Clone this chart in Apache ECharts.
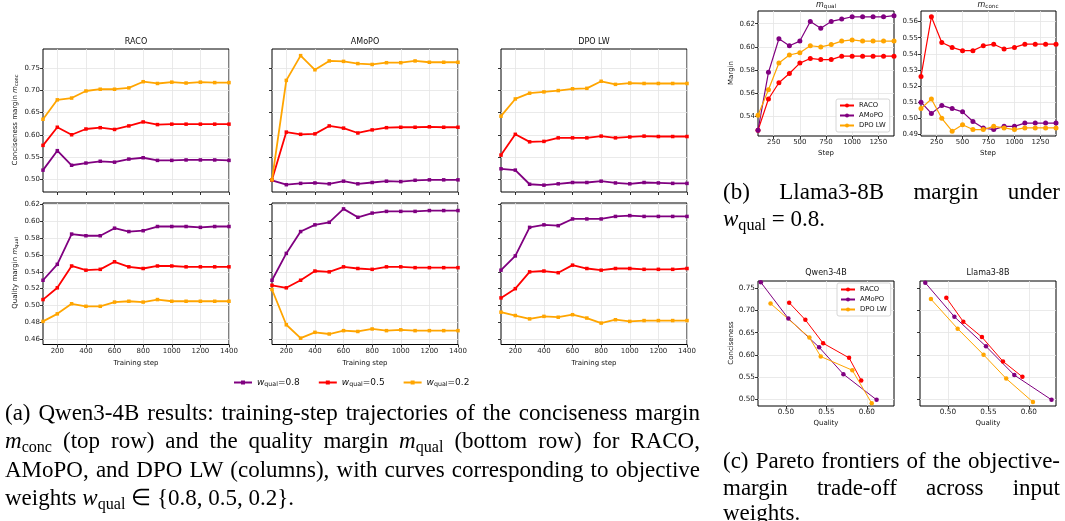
<!DOCTYPE html>
<html>
<head>
<meta charset="utf-8">
<title>Margin trajectories</title>
<script src="https://cdn.jsdelivr.net/npm/echarts@6/dist/echarts.min.js"></script>
<style>
  html, body { margin: 0; padding: 0; background: #fff; }
  #wrap { position: relative; width: 1065px; height: 521px; overflow: hidden; }
  #main { position: absolute; left: 0; top: 0; width: 1065px; height: 521px; }
  .cap { position: absolute; font-family: 'Liberation Serif', 'Times New Roman', serif; font-size: 23px; line-height: 26px; color: #000; white-space: nowrap; }
  .cap.j { white-space: normal; text-align: justify; text-align-last: justify; }
  .cap sub { font-size: 70%; vertical-align: -0.25em; line-height: 0; }
</style>
</head>
<body>
<div id="wrap">
  <div id="main"></div>
  <div class="cap j" style="left:5px; top:400px; width:695px;">(a) Qwen3-4B results: training-step trajectories of the conciseness margin</div>
  <div class="cap j" style="left:5px; top:428px; width:695px;"><i>m</i><sub>conc</sub> (top row) and the quality margin <i>m</i><sub>qual</sub> (bottom row) for RACO,</div>
  <div class="cap j" style="left:5px; top:457px; width:695px;">AMoPO, and DPO LW (columns), with curves corresponding to objective</div>
  <div class="cap" style="left:5px; top:485px;">weights <i>w</i><sub>qual</sub> &isin; {0.8, 0.5, 0.2}.</div>
  <div class="cap j" style="left:723px; top:179px; width:337px;">(b) Llama3-8B margin under</div>
  <div class="cap" style="left:723px; top:206px;"><i>w</i><sub>qual</sub> = 0.8.</div>
  <div class="cap j" style="left:723px; top:448px; width:337px;">(c) Pareto frontiers of the objective-</div>
  <div class="cap j" style="left:723px; top:475px; width:337px;">margin trade-off across input</div>
  <div class="cap" style="left:723px; top:500px;">weights.</div>
</div>
<script>
// training steps and tick values
var steps = [100, 200, 300, 400, 500, 600, 700, 800, 900, 1000, 1100, 1200, 1300, 1400];
var weights = ['0.8', '0.5', '0.2'];
var methods = ['RACO', 'AMoPO', 'DPO LW'];

var stepTicksA = [200, 400, 600, 800, 1000, 1200, 1400];
var stepTicksB = [250, 500, 750, 1000, 1250];
var concTicksA = [0.50, 0.55, 0.60, 0.65, 0.70, 0.75];
var qualTicksA = [0.46, 0.48, 0.50, 0.52, 0.54, 0.56, 0.58, 0.60, 0.62];
var qualTicksB = [0.54, 0.56, 0.58, 0.60, 0.62];
var concTicksB = [0.49, 0.50, 0.51, 0.52, 0.53, 0.54, 0.55, 0.56];
var paretoXTicks = [0.50, 0.55, 0.60];
var paretoYTicks = [0.50, 0.55, 0.60, 0.65, 0.70, 0.75];

// (a) Qwen3-4B conciseness margin, rows: w_qual = 0.8, 0.5, 0.2
var aConcRaco = [
  [0.520, 0.564, 0.531, 0.536, 0.540, 0.538, 0.545, 0.548, 0.542, 0.542, 0.543, 0.543, 0.543, 0.542],
  [0.576, 0.617, 0.600, 0.613, 0.616, 0.612, 0.620, 0.629, 0.623, 0.624, 0.624, 0.624, 0.624, 0.624],
  [0.635, 0.679, 0.683, 0.699, 0.703, 0.703, 0.706, 0.720, 0.716, 0.719, 0.717, 0.719, 0.718, 0.718]
];
var aConcAmopo = [
  [0.497, 0.487, 0.490, 0.491, 0.489, 0.495, 0.489, 0.492, 0.495, 0.494, 0.497, 0.498, 0.498, 0.498],
  [0.498, 0.606, 0.601, 0.602, 0.620, 0.615, 0.604, 0.611, 0.616, 0.617, 0.617, 0.618, 0.617, 0.617],
  [0.498, 0.723, 0.779, 0.747, 0.767, 0.766, 0.761, 0.759, 0.763, 0.763, 0.767, 0.764, 0.764, 0.764]
];
var aConcDpo = [
  [0.523, 0.520, 0.488, 0.486, 0.489, 0.492, 0.492, 0.495, 0.491, 0.489, 0.492, 0.491, 0.490, 0.490],
  [0.554, 0.601, 0.584, 0.585, 0.593, 0.593, 0.593, 0.597, 0.593, 0.595, 0.597, 0.596, 0.596, 0.596],
  [0.642, 0.681, 0.694, 0.697, 0.700, 0.704, 0.705, 0.721, 0.714, 0.717, 0.716, 0.716, 0.716, 0.716]
];

// (a) Qwen3-4B quality margin
var aQualRaco = [
  [0.530, 0.549, 0.585, 0.583, 0.583, 0.592, 0.588, 0.589, 0.594, 0.594, 0.594, 0.593, 0.594, 0.594],
  [0.507, 0.521, 0.547, 0.542, 0.543, 0.552, 0.546, 0.544, 0.547, 0.547, 0.546, 0.546, 0.546, 0.546],
  [0.481, 0.490, 0.502, 0.499, 0.499, 0.504, 0.505, 0.504, 0.507, 0.505, 0.505, 0.505, 0.505, 0.505]
];
var aQualAmopo = [
  [0.530, 0.562, 0.588, 0.596, 0.599, 0.615, 0.605, 0.610, 0.612, 0.612, 0.612, 0.613, 0.613, 0.613],
  [0.524, 0.521, 0.530, 0.541, 0.540, 0.546, 0.544, 0.543, 0.546, 0.546, 0.545, 0.545, 0.545, 0.545],
  [0.519, 0.477, 0.461, 0.468, 0.466, 0.470, 0.469, 0.472, 0.470, 0.471, 0.470, 0.470, 0.470, 0.470]
];
var aQualDpo = [
  [0.542, 0.559, 0.593, 0.596, 0.595, 0.603, 0.603, 0.603, 0.606, 0.607, 0.606, 0.606, 0.606, 0.606],
  [0.509, 0.520, 0.540, 0.541, 0.539, 0.548, 0.544, 0.542, 0.544, 0.544, 0.543, 0.543, 0.543, 0.544],
  [0.492, 0.488, 0.484, 0.487, 0.486, 0.489, 0.485, 0.479, 0.483, 0.481, 0.482, 0.482, 0.482, 0.482]
];

// (b) Llama3-8B, w_qual = 0.8 (RACO, AMoPO, DPO LW)
var bQual = [
  [0.528, 0.555, 0.569, 0.577, 0.586, 0.590, 0.589, 0.589, 0.592, 0.592, 0.592, 0.592, 0.592, 0.592],
  [0.528, 0.578, 0.607, 0.601, 0.605, 0.622, 0.616, 0.622, 0.624, 0.626, 0.626, 0.626, 0.626, 0.627],
  [0.541, 0.563, 0.586, 0.593, 0.595, 0.601, 0.600, 0.602, 0.605, 0.606, 0.605, 0.605, 0.605, 0.605]
];
var bConc = [
  [0.526, 0.563, 0.547, 0.544, 0.542, 0.542, 0.545, 0.546, 0.543, 0.544, 0.546, 0.546, 0.546, 0.546],
  [0.510, 0.503, 0.508, 0.506, 0.504, 0.498, 0.494, 0.493, 0.495, 0.495, 0.497, 0.497, 0.497, 0.497],
  [0.506, 0.512, 0.500, 0.492, 0.496, 0.493, 0.493, 0.495, 0.494, 0.493, 0.494, 0.494, 0.494, 0.494]
];

// (c) Pareto frontiers: quality (x) and conciseness (y)
var qwenQual = [
  [0.504, 0.524, 0.546, 0.578, 0.593],
  [0.469, 0.503, 0.541, 0.571, 0.612],
  [0.481, 0.529, 0.543, 0.582, 0.606]
];
var qwenConc = [
  [0.718, 0.679, 0.626, 0.593, 0.542],
  [0.764, 0.682, 0.617, 0.556, 0.498],
  [0.716, 0.639, 0.596, 0.565, 0.490]
];
var llamaQual = [
  [0.498, 0.519, 0.542, 0.568, 0.592],
  [0.472, 0.508, 0.547, 0.582, 0.628],
  [0.479, 0.512, 0.544, 0.572, 0.605]
];
var llamaConc = [
  [0.729, 0.675, 0.640, 0.585, 0.550],
  [0.763, 0.686, 0.619, 0.554, 0.498],
  [0.726, 0.659, 0.600, 0.546, 0.493]
];

var FONT = 'DejaVu Sans';
var PURPLE = '#800080', RED = '#ff0000', ORANGE = '#ffa500';
var wColors = [PURPLE, RED, ORANGE];
var mColors = [RED, PURPLE, ORANGE];

var grids = [], xAxes = [], yAxes = [], series = [], graphics = [];

function fix2(v) { return v.toFixed(2); }

function addGrid(left, top, width, height) {
    grids.push({ left: left, top: top, width: width, height: height, show: true,
        borderColor: '#000', borderWidth: 1, backgroundColor: 'transparent' });
    return grids.length - 1;
}

function makeAxis(gi, min, max, ticks, showLabel, fmt, fontSize) {
    return {
        type: 'value', gridIndex: gi, min: min, max: max,
        axisLine: { show: false, onZero: false },
        axisTick: { show: true, length: 3, customValues: ticks, lineStyle: { color: '#000', width: 0.8 } },
        axisLabel: { show: showLabel, customValues: ticks, formatter: fmt, fontSize: fontSize || 7,
            color: '#222', fontFamily: FONT, margin: 3 },
        splitLine: { show: true, lineStyle: { color: '#e4e4e4', width: 0.8 } }
    };
}

function addLine(gi, name, color, xs, ys, symbol, size, width) {
    series.push({
        type: 'line', name: name, xAxisIndex: gi, yAxisIndex: gi,
        data: xs.map(function (x, i) { return [x, ys[i]]; }),
        symbol: symbol, symbolSize: size, showSymbol: true,
        lineStyle: { color: color, width: width }, itemStyle: { color: color },
        emphasis: { disabled: true }, animation: false, z: 3
    });
}

// rich text styles (zrender graphic uses fill, components use color)
function gRich(size) {
    return {
        t: { fontSize: size, fontFamily: FONT, fill: '#111' },
        i: { fontSize: size, fontFamily: FONT, fontStyle: 'italic', fill: '#111' },
        s: { fontSize: size * 0.7, fontFamily: FONT, fill: '#111', padding: [size * 0.5, 0, 0, 0], verticalAlign: 'top' }
    };
}
function cRich(size) {
    return {
        t: { fontSize: size, fontFamily: FONT, color: '#111' },
        i: { fontSize: size, fontFamily: FONT, fontStyle: 'italic', color: '#111' },
        s: { fontSize: size * 0.7, fontFamily: FONT, color: '#111', padding: [size * 0.5, 0, 0, 0], verticalAlign: 'top' }
    };
}

function label(x, y, text, size, rot) {
    graphics.push({ type: 'text', x: x, y: y, rotation: rot || 0, silent: true,
        style: { text: text, fontSize: size, fontFamily: FONT, fill: '#111',
            align: 'center', verticalAlign: 'middle', rich: gRich(size) } });
}

// (a) top row: conciseness margin, bottom row: quality margin
var aConc = [aConcRaco, aConcAmopo, aConcDpo];
var aQual = [aQualRaco, aQualAmopo, aQualDpo];
var colLeft = [43, 272, 501];
var gi, c, w, m;
for (c = 0; c < 3; c++) {
    gi = addGrid(colLeft[c], 49, 186, 143);
    xAxes.push(makeAxis(gi, 100, 1400, stepTicksA, false, String));
    yAxes.push(makeAxis(gi, 0.4705, 0.794, concTicksA, c === 0, fix2));
    for (w = 0; w < 3; w++) addLine(gi, 'w=' + weights[w], wColors[w], steps, aConc[c][w], 'rect', 3.5, 1.8);
    label(colLeft[c] + 93, 42, '{t|' + methods[c] + '}', 8);
}
for (c = 0; c < 3; c++) {
    gi = addGrid(colLeft[c], 203, 186, 141.5);
    xAxes.push(makeAxis(gi, 100, 1400, stepTicksA, true, String));
    yAxes.push(makeAxis(gi, 0.4535, 0.622, qualTicksA, c === 0, fix2));
    for (w = 0; w < 3; w++) addLine(gi, 'w=' + weights[w], wColors[w], steps, aQual[c][w], 'rect', 3.5, 1.8);
    label(colLeft[c] + 93, 363, '{t|Training step}', 7);
}
label(15, 120, '{t|Conciseness margin }{i|m}{s|conc}', 7, Math.PI / 2);
label(15, 273, '{t|Quality margin }{i|m}{s|qual}', 7, Math.PI / 2);

// (b) Llama3-8B margins
gi = addGrid(758, 11, 136, 125);
xAxes.push(makeAxis(gi, 100, 1400, stepTicksB, true, String));
yAxes.push(makeAxis(gi, 0.523, 0.631, qualTicksB, true, fix2));
for (m = 0; m < 3; m++) addLine(gi, methods[m], mColors[m], steps, bQual[m], 'circle', 5, 1.2);
gi = addGrid(921, 11, 135, 125);
xAxes.push(makeAxis(gi, 100, 1400, stepTicksB, true, String));
yAxes.push(makeAxis(gi, 0.489, 0.5666, concTicksB, true, fix2));
for (m = 0; m < 3; m++) addLine(gi, methods[m], mColors[m], steps, bConc[m], 'circle', 5, 1.2);
label(826, 5, '{i|m}{s|qual}', 8);
label(988, 5, '{i|m}{s|conc}', 8);
label(826, 153, '{t|Step}', 7);
label(988, 153, '{t|Step}', 7);
label(731, 73, '{t|Margin}', 7, Math.PI / 2);

// (c) Pareto frontiers
gi = addGrid(758, 281, 136, 125);
xAxes.push(makeAxis(gi, 0.4655, 0.6335, paretoXTicks, true, fix2, 7.3));
yAxes.push(makeAxis(gi, 0.484, 0.767, paretoYTicks, true, fix2, 7.3));
for (m = 0; m < 3; m++) addLine(gi, methods[m], mColors[m], qwenQual[m], qwenConc[m], 'circle', 4.5, 1);
gi = addGrid(920, 281, 136, 125);
xAxes.push(makeAxis(gi, 0.4655, 0.6335, paretoXTicks, true, fix2, 7.3));
yAxes.push(makeAxis(gi, 0.484, 0.767, paretoYTicks, false, fix2, 7.3));
for (m = 0; m < 3; m++) addLine(gi, methods[m], mColors[m], llamaQual[m], llamaConc[m], 'circle', 4.5, 1);
label(826, 273, '{t|Qwen3-4B}', 8);
label(988, 273, '{t|Llama3-8B}', 8);
label(826, 423, '{t|Quality}', 7);
label(988, 423, '{t|Quality}', 7);
label(731, 343, '{t|Conciseness}', 7, Math.PI / 2);

var boxLegend = {
    orient: 'vertical', data: methods, selectedMode: false,
    backgroundColor: 'rgba(255,255,255,0.85)', borderColor: '#ccc', borderWidth: 0.8, borderRadius: 2,
    padding: [3, 4, 3, 3], itemGap: 3, itemWidth: 14, itemHeight: 5,
    textStyle: { fontSize: 6.8, fontFamily: FONT, color: '#111' }
};

var option = {
    backgroundColor: '#fff',
    animation: false,
    grid: grids,
    xAxis: xAxes,
    yAxis: yAxes,
    series: series,
    legend: [
        { left: 228, top: 373, orient: 'horizontal', data: weights.map(function (v) { return 'w=' + v; }),
          selectedMode: false, itemWidth: 18, itemHeight: 5, itemGap: 18,
          formatter: function (n) { return '{i|w}{s|qual}{t|=' + n.slice(2) + '}'; },
          textStyle: { rich: cRich(9) } },
        Object.assign({ left: 836, top: 99 }, boxLegend),
        Object.assign({ left: 837, top: 283 }, boxLegend)
    ],
    graphic: graphics
};

var myChart = echarts.init(document.getElementById('main'));
myChart.setOption(option);
</script>
</body>
</html>
